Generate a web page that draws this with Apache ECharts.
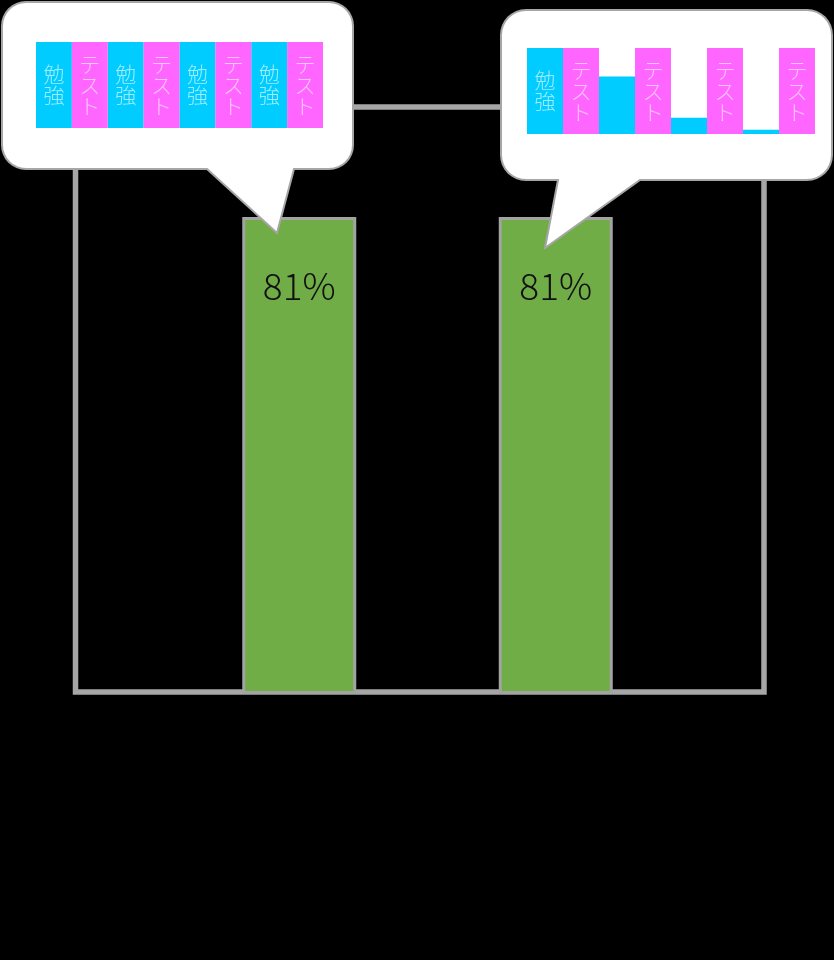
<!DOCTYPE html>
<html><head><meta charset="utf-8">
<script src="https://cdn.jsdelivr.net/npm/echarts@6/dist/echarts.min.js"></script>
<style>html,body{margin:0;padding:0;background:#000}#c{width:834px;height:960px}</style>
</head><body><div id="c"></div>
<script>
// main bars
const mainCategories = ['左', '右'];
const mainValues = [81, 81];
// mini charts inside speech bubbles
const miniCategories = ['1', '2', '3', '4'];
const leftStudy = [100, 100, 100, 100];
const leftTest = [100, 100, 100, 100];
const rightStudy = [100, 67, 19, 5];
const rightTest = [100, 100, 100, 100];
const studyLabel = '勉強';
const testLabel = 'テスト';

const CYAN = '#00ccff', PINK = '#ff66ff', GREEN = '#70ad47', GREY = '#a6a6a6';
const vert = s => s.split('').join('\n');

// speech-bubble outline as polygon (rounded corners + tail)
function bubble(x0, y0, x1, y1, r, tr, tip, tl) {
  const pts = [];
  const arc = (cx, cy, a0, a1) => {
    for (let i = 0; i <= 8; i++) {
      const a = (a0 + (a1 - a0) * i / 8) * Math.PI / 180;
      pts.push([cx + r * Math.cos(a), cy + r * Math.sin(a)]);
    }
  };
  arc(x1 - r, y0 + r, -90, 0);
  arc(x1 - r, y1 - r, 0, 90);
  pts.push([tr, y1], tip, [tl, y1]);
  arc(x0 + r, y1 - r, 90, 180);
  arc(x0 + r, y0 + r, 180, 270);
  return pts;
}

const miniLabel = (text) => ({
  show: true, position: 'inside',
  formatter: p => p.value >= 100 ? vert(text) : '',
  color: 'rgba(255,255,255,0.62)', fontFamily: 'Noto Sans CJK JP', fontWeight: 300, fontSize: 21, lineHeight: 21
});

const chart = echarts.init(document.getElementById('c'), null, { renderer: 'canvas' });
chart.setOption({
  backgroundColor: '#000',
  animation: false,
  grid: [
    { left: 171, top: 105, width: 513, height: 589, show: false },
    { left: 36, top: 42, width: 287, height: 86, show: false },
    { left: 527, top: 48, width: 288, height: 86, show: false }
  ],
  xAxis: [
    { type: 'category', data: mainCategories, gridIndex: 0, show: false },
    { type: 'category', data: miniCategories, gridIndex: 1, show: false },
    { type: 'category', data: miniCategories, gridIndex: 2, show: false }
  ],
  yAxis: [
    { type: 'value', min: 0, max: 100, gridIndex: 0, show: false },
    { type: 'value', min: 0, max: 100, gridIndex: 1, show: false },
    { type: 'value', min: 0, max: 100, gridIndex: 2, show: false }
  ],
  graphic: [
    { type: 'rect', z: 1, shape: { x: 75.5, y: 107, width: 688.5, height: 585 },
      style: { fill: 'none', stroke: GREY, lineWidth: 5.5 } },
    { type: 'polygon', z: 10, shape: { points: bubble(2, 2, 353, 169, 24, 294, [277, 233], 207) },
      style: { fill: '#fff', stroke: GREY, lineWidth: 2 } },
    { type: 'polygon', z: 10, shape: { points: bubble(501, 10, 832, 180, 25, 640, [545, 248], 558) },
      style: { fill: '#fff', stroke: GREY, lineWidth: 2 } }
  ],
  series: [
    { type: 'bar', xAxisIndex: 0, yAxisIndex: 0, data: mainValues, barWidth: 114, z: 5,
      itemStyle: { color: GREEN, borderColor: '#a3a3a3', borderWidth: 3 },
      label: { show: true, position: ['50%', 69], align: 'center', verticalAlign: 'middle',
        formatter: '{c}%', color: '#111', fontFamily: 'Noto Sans CJK JP', fontWeight: 300, fontSize: 37 } },
    { type: 'bar', xAxisIndex: 1, yAxisIndex: 1, data: leftStudy, z: 20, barGap: '0%', barCategoryGap: '0%',
      itemStyle: { color: CYAN }, label: miniLabel(studyLabel) },
    { type: 'bar', xAxisIndex: 1, yAxisIndex: 1, data: leftTest, z: 20, barGap: '0%', barCategoryGap: '0%',
      itemStyle: { color: PINK }, label: miniLabel(testLabel) },
    { type: 'bar', xAxisIndex: 2, yAxisIndex: 2, data: rightStudy, z: 20, barGap: '0%', barCategoryGap: '0%',
      itemStyle: { color: CYAN }, label: miniLabel(studyLabel) },
    { type: 'bar', xAxisIndex: 2, yAxisIndex: 2, data: rightTest, z: 20, barGap: '0%', barCategoryGap: '0%',
      itemStyle: { color: PINK }, label: miniLabel(testLabel) }
  ]
});
</script></body></html>
